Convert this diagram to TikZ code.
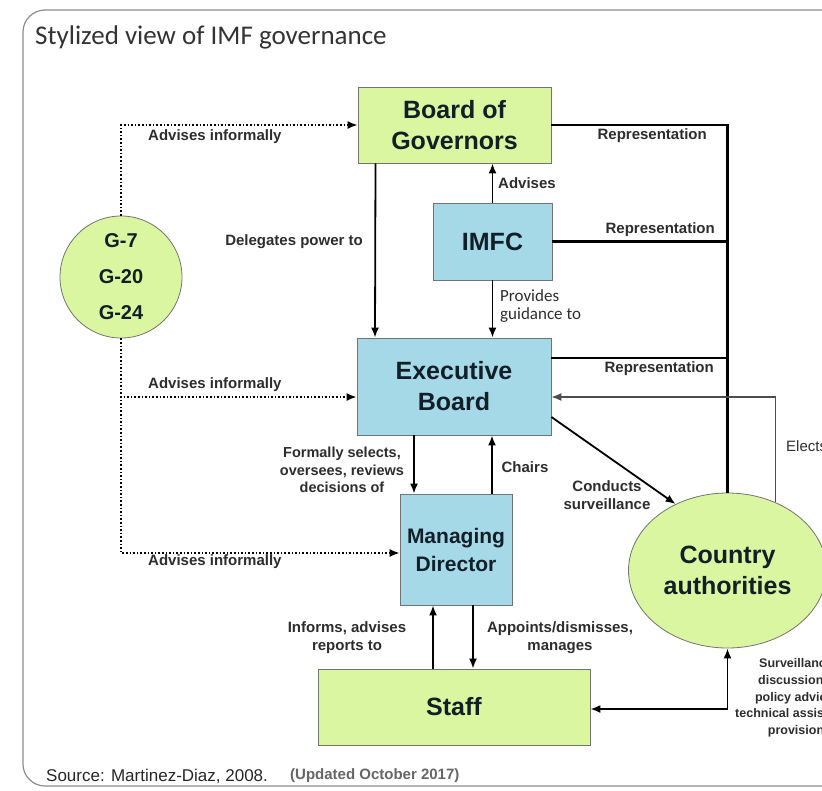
\documentclass[tikz,border=0pt]{standalone}
\usepackage{fontspec}
\setmainfont{Liberation Sans}
\newfontfamily\titlefont{Carlito}
\usetikzlibrary{arrows.meta, positioning, shapes.geometric, calc}

\definecolor{govgreen}{RGB}{219,246,160}
\definecolor{imfblue}{RGB}{166,217,231}
\definecolor{boxtext}{RGB}{18,30,40}
\definecolor{lbltext}{RGB}{45,45,45}

\begin{document}
\begin{tikzpicture}[x=1pt, y=-1pt,
  govbox/.style={draw=black!55, line width=0.8pt, fill=govgreen, align=center, text=boxtext, font=\bfseries\fontsize{25}{31}\selectfont, inner sep=0pt},
  imfbox/.style={draw=black!55, line width=0.8pt, fill=imfblue, align=center, text=boxtext, font=\bfseries\fontsize{25}{31}\selectfont, inner sep=0pt},
  lbl/.style={text=lbltext, font=\bfseries\fontsize{15}{18}\selectfont, inner sep=0pt, align=center},
  link/.style={line width=1.8pt, -{Latex[length=10pt,width=8pt]}},
  dotlink/.style={line width=1.6pt, dotted, -{Latex[length=10pt,width=8pt]}},
  repline/.style={line width=2.6pt},
  elect/.style={line width=1.3pt, black!70, -{Latex[length=10pt,width=8pt]}},
  framebox/.style={draw=black!45, line width=1.2pt, rounded corners=22pt}
]
\useasboundingbox (0,0) rectangle (822,790);

% Frame and title
\draw[framebox] (23,10) rectangle (860,786);
\node[anchor=west, inner sep=0pt, text=black!80, font=\titlefont\fontsize{27}{30}\selectfont] (title) at (35,37) {Stylized view of IMF governance};

% Governance bodies
\node[govbox, minimum width=193pt, minimum height=76pt] (bog) at (454.5,125) {Board of\\Governors};
\node[imfbox, minimum width=119pt, minimum height=77pt] (imfc) at (492.5,241.5) {IMFC};
\node[imfbox, minimum width=194pt, minimum height=97pt] (eb) at (454,386.5) {Executive\\Board};
\node[imfbox, minimum width=112pt, minimum height=111pt, font=\bfseries\fontsize{21}{28}\selectfont] (md) at (456,549.5) {Managing\\Director};
\node[govbox, minimum width=272pt, minimum height=76pt] (staff) at (454,707) {Staff};
\node[govbox, circle, minimum size=122pt, font=\bfseries\fontsize{20}{36}\selectfont] (groups) at (121,277) {G-7\\G-20\\G-24};
\node[govbox, ellipse, minimum width=198pt, minimum height=155pt] (country) at (727.5,570.5) {Country\\authorities};

% Informal advice (dotted)
\draw[dotlink] (groups.north) |- (bog.west);
\draw[dotlink] (groups.south) |- ([yshift=-10.5pt]eb.west);
\draw[dotlink] (groups.south) |- ([yshift=-3.5pt]md.west);
\node[lbl, anchor=west] (adv1) at (148,137) {Advises informally};
\node[lbl, anchor=west] (adv2) at (148,385) {Advises informally};
\node[lbl, anchor=west] (adv3) at (148,562) {Advises informally};

% Board of Governors, IMFC, Executive Board
\draw[link] ([xshift=-79pt]bog.south) -- ([xshift=-79pt]eb.north);
\node[lbl, anchor=east] (delegates) at (363,242) {Delegates power to};
\draw[link] (imfc.north) -- (imfc.north |- bog.south);
\node[lbl, anchor=west] (advises) at (498,183) {Advises};
\draw[link] (imfc.south) -- (imfc.south |- eb.north);
\node[anchor=west, inner sep=0pt, align=left, text=lbltext, font=\titlefont\fontsize{17}{18}\selectfont] (provides) at (500,306) {Provides\\guidance to};

% Representation
\draw[repline] (bog.east) -| (country.north);
\draw[repline] (imfc.east) -- (imfc.east -| country.north);
\draw[repline] ([yshift=28.5pt]eb.east) -- ([yshift=28.5pt]eb.east -| country.north);
\node[lbl, anchor=east] (rep1) at (707,136) {Representation};
\node[lbl, anchor=east] (rep2) at (715,230) {Representation};
\node[lbl, anchor=east] (rep3) at (714,369) {Representation};

% Country authorities
\draw[elect] (country.55) |- ([yshift=-10.5pt]eb.east);
\node[lbl, anchor=west, font=\fontsize{15}{18}\selectfont] (elects) at (786,446) {Elects};
\draw[link] ([yshift=-30.5pt]eb.east) -- (country.128);
\node[lbl] (conducts) at (607,495) {Conducts\\surveillance};

% Executive Board and Managing Director
\draw[link] ([xshift=-40pt]eb.south) -- ([xshift=-40pt]eb.south |- md.north);
\node[lbl, font=\bfseries\fontsize{14.5}{17.5}\selectfont] (selects) at (342,470) {Formally selects,\\oversees, reviews\\decisions of};
\draw[link] ([xshift=36pt]md.north) -- ([xshift=36pt]md.north |- eb.south);
\node[lbl] (chairs) at (525,467) {Chairs};

% Managing Director and Staff
\draw[link] ([xshift=-23pt]md.south |- staff.north) -- ([xshift=-23pt]md.south);
\node[lbl] (informs) at (347,638) {Informs, advises\\reports to};
\draw[link] ([xshift=17pt]md.south) -- ([xshift=17pt]md.south |- staff.north);
\node[lbl] (appoints) at (560,638) {Appoints/dismisses,\\manages};
\draw[line width=1.8pt, {Latex[length=10pt,width=8pt]}-{Latex[length=10pt,width=8pt]}] ([yshift=-2pt]staff.east) -| (country.south);
\node[lbl, font=\bfseries\fontsize{12.5}{16.7}\selectfont] (surv) at (796,698) {Surveillance\\discussions,\\policy advice,\\technical assistance\\provision};

% Source
\node[anchor=west, inner sep=0pt, text=black!85, font=\fontsize{17}{20}\selectfont] (source) at (46,776) {Source: Martinez-Diaz, 2008.};
\node[anchor=west, inner sep=0pt, text=black!60, font=\bfseries\fontsize{15}{18}\selectfont] (updated) at (290,776) {(Updated October 2017)};
\end{tikzpicture}
\end{document}
